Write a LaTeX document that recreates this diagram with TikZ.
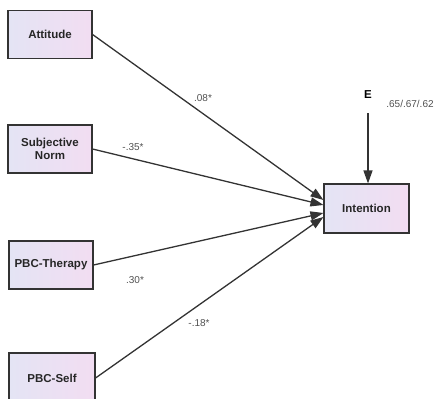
\documentclass[tikz,border=0pt]{standalone}
\usepackage{fontspec}
\setmainfont{Liberation Sans}
\usepackage{tikz}
\usetikzlibrary{arrows.meta,calc}

\definecolor{boxleft}{HTML}{E4E4F4}
\definecolor{boxright}{HTML}{F2DDF2}
\definecolor{edgegray}{HTML}{333333}
\definecolor{labelgray}{HTML}{505050}

\begin{document}
\begin{tikzpicture}[
  x=1pt, y=-1pt,
  font=\fontsize{10}{11}\selectfont,
  >={Triangle[length=13pt,width=9pt]},
  % Styles
  varbox/.style={draw=edgegray,line width=1.1pt,rectangle,minimum width=84pt,minimum height=48pt,
    align=center,left color=boxleft,right color=boxright,
    font=\fontsize{11.5}{13}\selectfont\bfseries,text=black!85},
  path/.style={->,draw=edgegray,line width=1.3pt},
  coef/.style={text=labelgray,inner sep=1pt},
  ]
\useasboundingbox (0,0) rectangle (435,398);

%--- Predictors ------------------------------------------------------
\node[varbox] (attitude) at (50,34.5) {Attitude};
\node[varbox] (subnorm) at (50,149) {Subjective\\Norm};
\node[varbox] (therapy) at (51,265) {PBC-Therapy};
\node[varbox, minimum width=86pt, minimum height=50pt] (self) at (52,378) {PBC-Self};

%--- Outcome ---------------------------------------------------------
\node[varbox, minimum width=85pt, minimum height=49pt] (intention) at (366.5,208.5) {Intention};

% Error term
\node[font=\fontsize{11.5}{13}\selectfont\bfseries] (err) at (368,95) {E};
\node[coef] (rsq) at (410,104) {.65/.67/.62};

%--- Paths -----------------------------------------------------------
\draw[path] (attitude.east) -- ($(intention.west)+(0,-8.5)$);
\draw[path] (subnorm.east) -- ($(intention.west)+(0,-3.5)$);
\draw[path] (therapy.east) -- ($(intention.west)+(0,4.5)$);
\draw[path] (self.east) -- ($(intention.west)+(0,8.5)$);

\draw[path, shorten <=11pt] (err.south) -- (err.south |- intention.north);

% Coefficients
\node[coef] (c1) at (203,98) {.08*};
\node[coef] (c2) at (133,147) {-.35*};
\node[coef] (c3) at (135,280) {.30*};
\node[coef] (c4) at (199,323) {-.18*};

\end{tikzpicture}
\end{document}
